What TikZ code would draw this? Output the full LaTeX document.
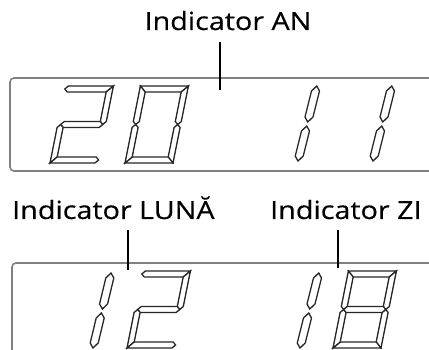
\documentclass[tikz,border=0pt]{standalone}
\usepackage{fontspec}
\newfontfamily\lblfontfam[FakeStretch=1.15,FakeBold=0.4]{Open Sans}
\newcommand\lblfont{\lblfontfam\fontsize{25}{29}\selectfont}
\tikzset{
  seg/.style={draw=black!85, line width=1.3pt, line join=miter, fill=white},
  dispbox/.style={draw=black!50, line width=1.6pt, rounded corners=4pt},
  leader/.style={draw=black, line width=1.1pt},
  lbl/.style={font=\lblfont, inner sep=0pt},
}
% segment macros (local coords, v up): W=48, H=77, t=6
\newcommand\sA{\path[seg] (0,77)--(48,77)--(42,71)--(6,71)--cycle;}
\newcommand\sAp{\path[seg] (0,74)--(3,77)--(48,77)--(42,71)--(3,71)--cycle;}
\newcommand\sB{\path[seg] (48,77)--(48,41.5)--(45,38.5)--(42,41.5)--(42,71)--cycle;}
\newcommand\sC{\path[seg] (48,0)--(48,35.5)--(45,38.5)--(42,35.5)--(42,6)--cycle;}
\newcommand\sD{\path[seg] (0,0)--(48,0)--(42,6)--(6,6)--cycle;}
\newcommand\sDp{\path[seg] (0,0)--(45,0)--(48,3)--(45,6)--(6,6)--cycle;}
\newcommand\sE{\path[seg] (0,0)--(0,35.5)--(3,38.5)--(6,35.5)--(6,6)--cycle;}
\newcommand\sF{\path[seg] (0,77)--(0,41.5)--(3,38.5)--(6,41.5)--(6,71)--cycle;}
\newcommand\sG{\path[seg] (3,38.5)--(6,41.5)--(42,41.5)--(45,38.5)--(42,35.5)--(6,35.5)--cycle;}
\newcommand\sOne{%
  \path[seg] (0,5)--(4,0)--(8,5)--(8,30)--(4,35)--(0,30)--cycle;
  \path[seg] (0,44)--(4,39)--(8,44)--(8,70)--(4,75)--(0,70)--cycle;}
\begin{document}
\begin{tikzpicture}[x=1pt,y=-1pt]
\useasboundingbox (0,0) rectangle (429,350);
\clip (0,0) rectangle (429,350);
% display boxes
\path[dispbox] (10,78) rectangle (445,171);
\path[dispbox] (12,263) rectangle (445,370);
% labels
\node[lbl, anchor=base] (an) at (228,30) {Indicator AN};
\node[lbl, anchor=base west] (luna) at (12,219) {Indicator LUNĂ};
\node[lbl, anchor=base west] (zi) at (270,219) {Indicator ZI};
% leader lines
\coordinate (anTop) at (220,42);  \coordinate (anEnd) at (220,90);
\coordinate (lunaTop) at (128,230); \coordinate (lunaEnd) at (128,270);
\coordinate (ziTop) at (338,230); \coordinate (ziEnd) at (338,268);
\draw[leader] (anTop) -- (anEnd);
\draw[leader] (lunaTop) -- (lunaEnd);
\draw[leader] (ziTop) -- (ziEnd);
% top display: 20 11
\begin{scope}[shift={(50,163)}, xslant=0.2, y=1pt]
  \sAp \sB \sG \sE \sDp
\end{scope}
\begin{scope}[shift={(125,163)}, xslant=0.2, y=1pt]
  \sA \sB \sC \sD \sE \sF
\end{scope}
\begin{scope}[shift={(294,161)}, xslant=0.25, y=1pt]
  \sOne
\end{scope}
\begin{scope}[shift={(369,161)}, xslant=0.25, y=1pt]
  \sOne
\end{scope}
% bottom display: 12 18
\begin{scope}[shift={(89,348)}, xslant=0.24, y=1pt]
  \sOne
\end{scope}
\begin{scope}[shift={(127,348)}, xslant=0.2, y=1pt]
  \sAp \sB \sG \sE \sDp
\end{scope}
\begin{scope}[shift={(296,348)}, xslant=0.25, y=1pt]
  \sOne
\end{scope}
\begin{scope}[shift={(333,348)}, xslant=0.2, y=1pt]
  \sA \sB \sC \sD \sE \sF \sG
\end{scope}
\end{tikzpicture}
\end{document}
